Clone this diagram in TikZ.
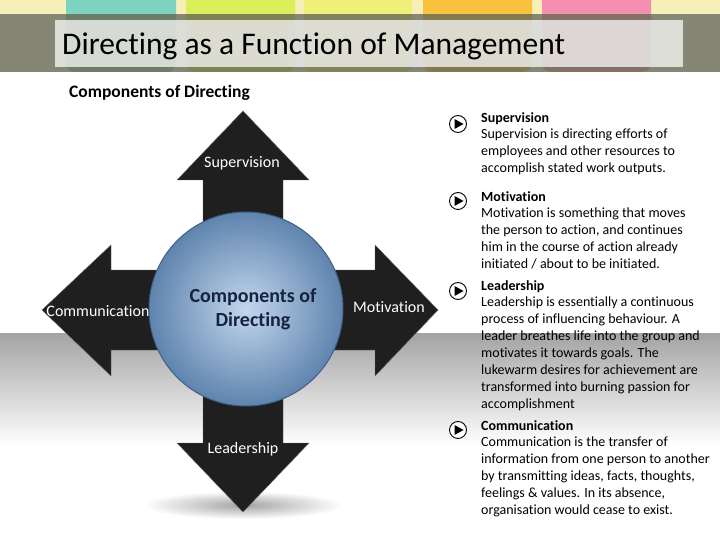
\documentclass[tikz,border=0pt]{standalone}
\usepackage{fontspec}
\setmainfont{Carlito}[Ligatures={NoCommon,NoContextual}]
\definecolor{bandc}{HTML}{6B6B55}
\definecolor{stripc}{HTML}{F6EFB8}
\definecolor{tabA}{HTML}{7FD3C3}
\definecolor{tabB}{HTML}{D9F05A}
\definecolor{tabC}{HTML}{EEF07A}
\definecolor{tabD}{HTML}{F8C23E}
\definecolor{tabE}{HTML}{F48FB1}
\definecolor{ballin}{HTML}{C2D6EC}
\definecolor{ballout}{HTML}{5F84AE}
\definecolor{ballrim}{HTML}{3F5F8A}
\definecolor{navy}{HTML}{16233F}
\tikzset{
  tab/.style={rounded corners=9pt},
  armlabel/.style={text=white, font=\fontsize{16}{18}\selectfont, inner sep=0pt},
  bodytext/.style={anchor=north west, align=left, inner sep=0pt, font=\fontsize{14}{16.9}\selectfont},
  playicon/.style={circle, draw=black, line width=0.9pt, fill=white, minimum size=17pt, inner sep=0pt},
}
\begin{document}
\begin{tikzpicture}[x=1pt,y=-1pt]
\useasboundingbox (0,0) rectangle (720,540);
% top strip and tabs
\fill[stripc] (0,0) rectangle (720,14);
\fill[tabA,tab] (66,-20) rectangle (176,72);
\fill[tabB,tab] (186,-20) rectangle (295,72);
\fill[tabC,tab] (304,-20) rectangle (412,72);
\fill[tabD,tab] (423,-20) rectangle (532,72);
\fill[tabE,tab] (542,-20) rectangle (651,72);
\fill[bandc,fill opacity=0.82] (0,14) rectangle (720,72);
\fill[white,fill opacity=0.72] (55,20) rectangle (683,67);
\node[anchor=base west, inner sep=0pt, font=\fontsize{31.5}{34}\selectfont] (title) at (62,55) {Directing as a Function of Management};
\node[anchor=base west, inner sep=0pt, font=\fontsize{17.5}{20}\selectfont\bfseries] (sub) at (69,98) {Components of Directing};
% gray floor gradient
\shade[top color=black!36, bottom color=white] (0,333) rectangle (720,445);
% shadow under bottom arrow
\shade[inner color=black!45, outer color=white, fill opacity=0.8] (243,505) ellipse (100 and 14);
% cross arrows
\fill[black!88, draw=black!60, line width=0.4pt]
 (243,111) -- (309,180) -- (283,180) -- (283,270) -- (375,270) -- (375,245) -- (438,310)
 -- (375,376) -- (375,350) -- (283,350) -- (283,443) -- (309,443) -- (243,512)
 -- (177,443) -- (203,443) -- (203,350) -- (111,350) -- (111,376) -- (42,310)
 -- (111,245) -- (111,270) -- (203,270) -- (203,180) -- (177,180) -- cycle;
\node[armlabel] (sup) at (242,163) {Supervision};
\node[armlabel] (lea) at (243,449) {Leadership};
\node[armlabel] (com) at (98,311) {Communication};
\node[armlabel] (mot) at (389,307) {Motivation};
% central ball
\shade[inner color=ballin, outer color=ballout, draw=ballrim, line width=1pt] (246,309) circle (97);
\node[align=center, text=navy, font=\fontsize{20}{24}\selectfont\bfseries] (centre) at (253,309) {Components of\\Directing};
% right side texts
\foreach \n/\yy in {1/124,2/201,3/291,4/430}{
  \node[playicon] (icon\n) at (458,\yy) {};
  \fill (icon\n.center) ++(-3.5,-5) -- ++(9,5) -- ++(-9,5) -- cycle;
}
\node[bodytext] (t1) at (481,112) {\textbf{Supervision}\\Supervision is directing efforts of\\employees and other resources to\\accomplish stated work outputs.};
\node[bodytext] (t2) at (481,191) {\textbf{Motivation}\\Motivation is something that moves\\the person to action, and continues\\him in the course of action already\\initiated / about to be initiated.};
\node[bodytext] (t3) at (481,280) {\textbf{Leadership}\\Leadership is essentially a continuous\\process of influencing behaviour. A\\leader breathes life into the group and\\motivates it towards goals. The\\lukewarm desires for achievement are\\transformed into burning passion for\\accomplishment};
\node[bodytext] (t4) at (481,420) {\textbf{Communication}\\Communication is the transfer of\\information from one person to another\\by transmitting ideas, facts, thoughts,\\feelings \& values. In its absence,\\organisation would cease to exist.};
\end{tikzpicture}
\end{document}
